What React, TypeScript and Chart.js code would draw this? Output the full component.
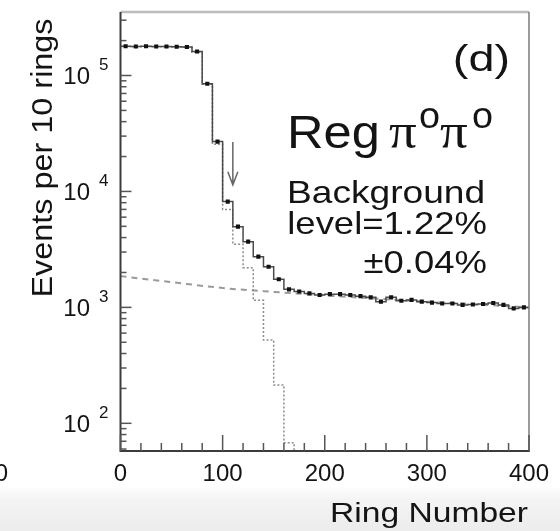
import { useEffect, useRef } from "react";
import { Chart, registerables } from "chart.js";

Chart.register(...registerables);

// ---- data ----
const ringCenters = [
  5, 15, 25, 35, 45, 55, 65, 75, 85, 95,
  105, 115, 125, 135, 145, 155, 165, 175, 185, 195,
  205, 215, 225, 235, 245, 255, 265, 275, 285, 295,
  305, 315, 325, 335, 345, 355, 365, 375, 385, 395,
];
const dataCounts = [
  179000, 178000, 179000, 178000, 178000, 177000, 176000, 161000, 85000, 26900,
  8170, 4970, 3690, 2740, 2240, 1750, 1430, 1370, 1320, 1280,
  1300, 1300, 1280, 1250, 1220, 1120, 1220, 1140, 1160, 1120,
  1100, 1080, 1080, 1050, 1060, 1070, 1090, 1050, 980, 1000,
];
// signal-only simulation (dotted), bins from ring 0 upward
const signalCounts = [
  178000, 177000, 178000, 177000, 177000, 176000, 175000, 159000, 84000, 25500,
  7000, 3500, 2200, 1150, 524, 214, 68, 1,
];
// background fit (dashed)
const bkgRings = [0, 50, 100, 150, 200, 250, 300, 350, 400];
const bkgCounts = [1860, 1650, 1470, 1360, 1270, 1190, 1120, 1060, 1000];

const xTickValues = [0, 100, 200, 300, 400];
const xTickLabels = ["0", "100", "200", "300", "400"];
const yDecades = [2, 3, 4, 5];

const arrowRing = 110;
const arrowTopValue = 26700;
const arrowTipValue = 11400;

const X_MIN = 0;
const X_MAX = 400;
const Y_MIN = 57.7;
const Y_MAX = 353000;

const W = 560;
const H = 531;
const SANS = '"Liberation Sans", Arial, Helvetica, sans-serif';
const SERIF = '"Liberation Serif", "Times New Roman", serif';

function txt(
  ctx: CanvasRenderingContext2D,
  s: string,
  x: number,
  y: number,
  size: number,
  align: CanvasTextAlign,
  sx = 1,
  family = SANS,
  baseline: CanvasTextBaseline = "alphabetic"
) {
  ctx.save();
  ctx.font = `${size}px ${family}`;
  ctx.textAlign = align;
  ctx.textBaseline = baseline;
  ctx.fillStyle = "#141414";
  ctx.translate(x, y);
  ctx.scale(sx, 1);
  ctx.fillText(s, 0, 0);
  ctx.restore();
}

function histPoints(counts: number[]) {
  const pts = counts.map((v, i) => ({ x: ringCenters[i] - 5, y: v }));
  const last = counts.length - 1;
  pts.push({ x: ringCenters[last] + 5, y: counts[last] });
  return pts;
}

const rootStyle = {
  id: "rootStyle",
  beforeDraw(chart: any) {
    const ctx = chart.ctx as CanvasRenderingContext2D;
    ctx.save();
    ctx.fillStyle = "#ffffff";
    ctx.fillRect(0, 0, W, H);
    const g = ctx.createLinearGradient(0, 486, 0, H);
    g.addColorStop(0, "#ffffff");
    g.addColorStop(0.3, "#f4f4f4");
    g.addColorStop(1, "#ececec");
    ctx.fillStyle = g;
    ctx.fillRect(0, 486, W, H - 486);
    ctx.restore();
  },
  afterDatasetsDraw(chart: any) {
    const ctx = chart.ctx as CanvasRenderingContext2D;
    const { left, right, top, bottom } = chart.chartArea;
    const xs = chart.scales.x;
    const ys = chart.scales.y;
    ctx.save();
    // frame
    ctx.lineCap = "butt";
    ctx.strokeStyle = "#bdbdbd";
    ctx.lineWidth = 2.5;
    ctx.beginPath();
    ctx.moveTo(left, top);
    ctx.lineTo(right, top);
    ctx.stroke();
    ctx.strokeStyle = "#7a7a7a";
    ctx.lineWidth = 1.5;
    ctx.beginPath();
    ctx.moveTo(right, top);
    ctx.lineTo(right, bottom);
    ctx.stroke();
    ctx.strokeStyle = "#3c3c3c";
    ctx.lineWidth = 2;
    ctx.beginPath();
    ctx.moveTo(left, top);
    ctx.lineTo(left, bottom);
    ctx.lineTo(right + 0.75, bottom);
    ctx.stroke();

    // x ticks (inward)
    ctx.strokeStyle = "#555";
    ctx.lineWidth = 1.5;
    for (let v = X_MIN; v <= X_MAX; v += 20) {
      const px = xs.getPixelForValue(v);
      const len = v % 100 === 0 ? 16 : 8;
      ctx.beginPath();
      ctx.moveTo(px, bottom);
      ctx.lineTo(px, bottom - len);
      ctx.stroke();
    }
    // y ticks (inward)
    for (let n = 1; n <= 5; n++) {
      for (let k = 1; k <= 9; k++) {
        const v = k * Math.pow(10, n);
        if (v < Y_MIN || v > Y_MAX) continue;
        const py = ys.getPixelForValue(v);
        const len = k === 1 ? 11 : 6;
        ctx.beginPath();
        ctx.moveTo(left, py);
        ctx.lineTo(left + len, py);
        ctx.stroke();
      }
    }

    // arrow
    const ax = xs.getPixelForValue(arrowRing);
    const ay1 = ys.getPixelForValue(arrowTopValue);
    const ay2 = ys.getPixelForValue(arrowTipValue);
    ctx.strokeStyle = "#666";
    ctx.lineWidth = 1.5;
    ctx.beginPath();
    ctx.moveTo(ax, ay1);
    ctx.lineTo(ax, ay2);
    ctx.moveTo(ax - 5, ay2 - 13);
    ctx.lineTo(ax, ay2);
    ctx.lineTo(ax + 5, ay2 - 13);
    ctx.stroke();
    ctx.restore();
  },
  afterDraw(chart: any) {
    const ctx = chart.ctx as CanvasRenderingContext2D;
    const xs = chart.scales.x;
    const ys = chart.scales.y;

    // x tick labels
    xTickValues.forEach((v, i) => {
      txt(ctx, xTickLabels[i], xs.getPixelForValue(v), 474, 24, "center", 1, SANS, "middle");
    });
    // partial label of the neighbouring panel
    txt(ctx, "400", 8, 474, 24, "right", 1, SANS, "middle");

    // y tick labels 10^n
    yDecades.forEach((n) => {
      const py = ys.getPixelForValue(Math.pow(10, n));
      txt(ctx, "10", 90, py + 2, 24, "right", 1, SANS, "middle");
      txt(ctx, String(n), 99, py - 10, 17, "left", 1, SANS, "middle");
    });

    // axis titles
    txt(ctx, "Ring Number", 528, 522, 28, "right", 1.2);
    ctx.save();
    ctx.translate(52, 158);
    ctx.rotate(-Math.PI / 2);
    ctx.scale(1.08, 1);
    ctx.font = `30px ${SANS}`;
    ctx.textAlign = "center";
    ctx.textBaseline = "alphabetic";
    ctx.fillStyle = "#141414";
    ctx.fillText("Events per 10 rings", 0, 0);
    ctx.restore();

    // annotations
    txt(ctx, "(d)", 510, 71, 36, "right", 1.3);
    txt(ctx, "Reg", 287, 148, 46, "left", 1.1);
    txt(ctx, "π", 389, 148, 50, "left", 1.1, SERIF);
    txt(ctx, "o", 419, 128, 36, "left", 1.05);
    txt(ctx, "π", 440, 148, 50, "left", 1.1, SERIF);
    txt(ctx, "o", 472, 128, 36, "left", 1.05);
    txt(ctx, "Background", 287, 203, 32, "left", 1.16);
    txt(ctx, "level=1.22%", 487, 234, 32, "right", 1.14);
    txt(ctx, "±0.04%", 487, 273, 32, "right", 1.14);
  },
};

export default function App() {
  const ref = useRef<HTMLCanvasElement | null>(null);

  useEffect(() => {
    if (!ref.current) return;
    const markers = ringCenters.map((x, i) => ({ x, y: dataCounts[i] }));
    const chart = new Chart(ref.current, {
      type: "line",
      data: {
        datasets: [
          {
            data: markers,
            showLine: false,
            pointStyle: "rect",
            pointRadius: 2.9,
            pointBackgroundColor: "#111",
            pointBorderColor: "#111",
            pointBorderWidth: 0,
          },
          {
            data: histPoints(dataCounts),
            stepped: true,
            borderColor: "#4a4a4a",
            borderWidth: 1.5,
            pointRadius: 0,
            fill: false,
          },
          {
            data: histPoints(signalCounts),
            stepped: true,
            borderColor: "#8c8c8c",
            borderWidth: 1.5,
            borderDash: [2, 2],
            pointRadius: 0,
            fill: false,
          },
          {
            data: bkgRings.map((x, i) => ({ x, y: bkgCounts[i] })),
            borderColor: "#9a9a9a",
            borderWidth: 2,
            borderDash: [6, 5],
            cubicInterpolationMode: "monotone",
            pointRadius: 0,
            fill: false,
          },
        ] as any,
      },
      options: {
        animation: false,
        responsive: false,
        maintainAspectRatio: false,
        devicePixelRatio: 1,
        events: [],
        layout: { padding: { left: 120.5, right: 31, top: 12, bottom: 80 } },
        plugins: { legend: { display: false }, tooltip: { enabled: false } },
        scales: {
          x: { type: "linear", min: X_MIN, max: X_MAX, display: false },
          y: { type: "logarithmic", min: Y_MIN, max: Y_MAX, display: false },
        },
      },
      plugins: [rootStyle as any],
    });
    return () => chart.destroy();
  }, []);

  return (
    <div style={{ position: "fixed", left: 0, top: 0, width: W, height: H }}>
      <canvas ref={ref} width={W} height={H} style={{ width: W, height: H, display: "block" }} />
    </div>
  );
}
